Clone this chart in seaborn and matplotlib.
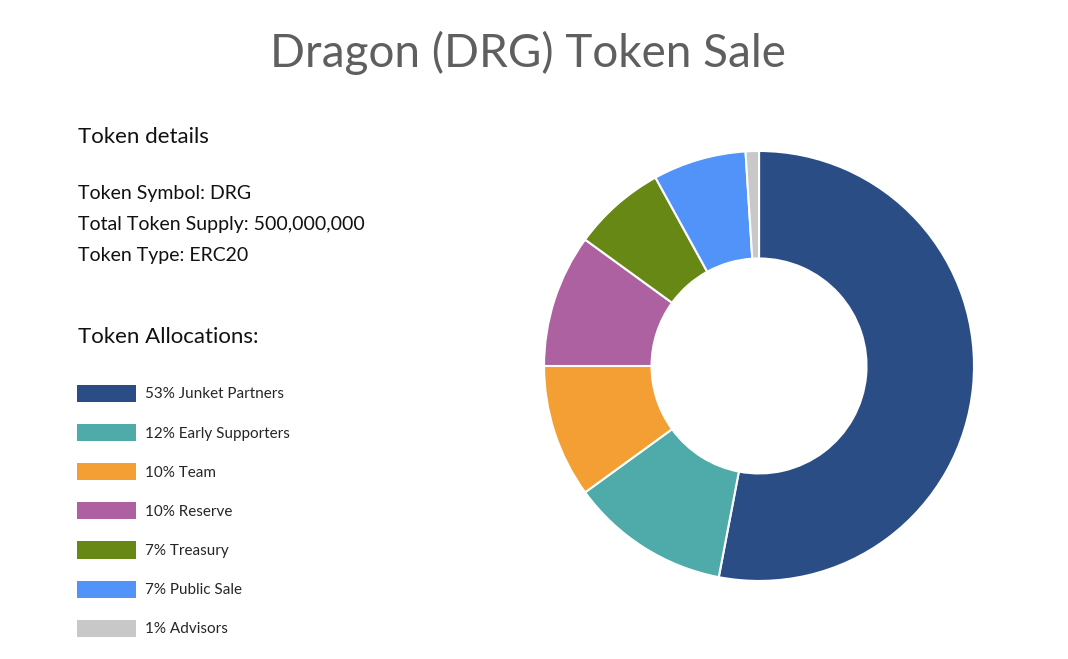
import matplotlib
matplotlib.use("Agg")
import matplotlib.pyplot as plt
import seaborn as sns

# token allocation data
names = ["Junket Partners", "Early Supporters", "Team", "Reserve",
         "Treasury", "Public Sale", "Advisors"]
shares = [53, 12, 10, 10, 7, 7, 1]
colors = ["#2a4d85", "#4fabaa", "#f39f34", "#ae61a0",
          "#688816", "#5193f9", "#c8c8c8"]

title = "Dragon (DRG) Token Sale"
details = ["Token Symbol: DRG", "Total Token Supply: 500,000,000", "Token Type: ERC20"]


def main():
    sns.set_theme(style="white")
    plt.rcParams["font.family"] = ["Lato", "DejaVu Sans"]

    fig = plt.figure(figsize=(10.68, 6.59), dpi=100)
    fig.patch.set_facecolor("white")

    fig.text(0.494, 0.919, title, ha="center", va="center",
             fontsize=33, color="#5f5f5f")

    fig.text(0.073, 0.792, "Token details", ha="left", va="center",
             fontsize=16, color="#111111")
    for i, line in enumerate(details):
        fig.text(0.073, 0.707 - i * 0.047, line, ha="left", va="center",
                 fontsize=14, color="#111111")
    fig.text(0.073, 0.489, "Token Allocations:", ha="left", va="center",
             fontsize=16, color="#111111")

    ax = fig.add_axes([0.5094, 0.1184, 0.4026, 0.6525])
    wedges, _ = ax.pie(
        shares,
        colors=colors,
        startangle=90,
        counterclock=False,
        wedgeprops=dict(width=0.5, edgecolor="white", linewidth=1.5),
    )
    ax.set_xlim(-1.0, 1.0)
    ax.set_ylim(-1.0, 1.0)
    ax.set_aspect("equal")

    labels = [f"{s}% {n}" for s, n in zip(shares, names)]
    leg = fig.legend(
        wedges, labels,
        loc="upper left",
        bbox_to_anchor=(0.059, 0.437),
        frameon=False,
        fontsize=11,
        handlelength=3.9,
        handleheight=1.35,
        labelspacing=1.44,
        handletextpad=0.55,
    )
    for h in leg.legend_handles:
        h.set_edgecolor("none")

    fig.savefig("out.png", dpi=100, facecolor="white")
    plt.close(fig)


if __name__ == "__main__":
    main()
